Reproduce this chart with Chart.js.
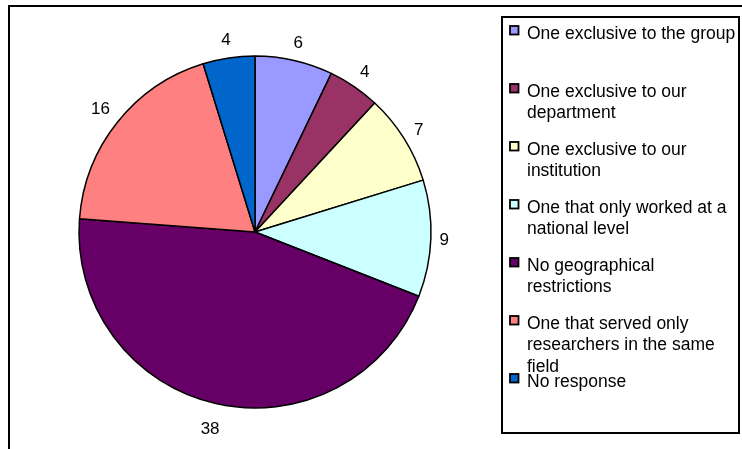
<!DOCTYPE html>
<html>
<head>
<meta charset="utf-8">
<script src="https://cdn.jsdelivr.net/npm/chart.js@4.4.0/dist/chart.umd.min.js"></script>
<style>
  html, body { margin: 0; padding: 0; background: #fff; }
  #wrap { width: 742px; height: 449px; }
</style>
</head>
<body>
<div id="wrap"><canvas id="pieChart" width="742" height="449"></canvas></div>
<script>
// ===== Data =====
const categories = [
    ['One exclusive to the group'],
    ['One exclusive to our', 'department'],
    ['One exclusive to our', 'institution'],
    ['One that only worked at a', 'national level'],
    ['No geographical', 'restrictions'],
    ['One that served only', 'researchers in the same', 'field'],
    ['No response']
];
const responses = [6, 4, 7, 9, 38, 16, 4];
const sliceColors = ['#9999FF', '#993366', '#FFFFCC', '#CCFFFF', '#660066', '#FF8080', '#0066CC'];

const FONT = "'Liberation Sans', Arial, sans-serif";

// ===== Frame + legend box =====
const framePlugin = {
    id: 'frame',
    beforeDraw(chart) {
        const ctx = chart.ctx;
        ctx.save();
        ctx.fillStyle = '#fff';
        ctx.fillRect(0, 0, chart.width, chart.height);
        ctx.strokeStyle = '#000';
        ctx.lineWidth = 2;
        ctx.strokeRect(9, 6, 800, 500);
        ctx.restore();
    },
    afterDraw(chart) {
        const ctx = chart.ctx;
        ctx.save();
        ctx.strokeStyle = '#000';
        ctx.lineWidth = 2;
        ctx.strokeRect(502, 17, 237, 416);

        ctx.font = '17.5px ' + FONT;
        ctx.textBaseline = 'alphabetic';
        ctx.textAlign = 'left';
        const step = 58;
        const lineH = 21.7;
        categories.forEach((lines, i) => {
            const base = 38.5 + i * step;
            // swatch
            ctx.fillStyle = sliceColors[i];
            ctx.fillRect(510, base - 12.5, 8.5, 8.5);
            ctx.lineWidth = 1.8;
            ctx.strokeStyle = '#000';
            ctx.strokeRect(510, base - 12.5, 8.5, 8.5);
            ctx.fillStyle = '#000';
            lines.forEach((txt, j) => ctx.fillText(txt, 527, base + j * lineH));
        });
        ctx.restore();
    }
};

// ===== Value labels outside the slices =====
const outsideLabels = {
    id: 'outsideLabels',
    afterDatasetsDraw(chart) {
        const ctx = chart.ctx;
        const meta = chart.getDatasetMeta(0);
        ctx.save();
        ctx.font = '17px ' + FONT;
        ctx.fillStyle = '#000';
        ctx.textAlign = 'center';
        ctx.textBaseline = 'middle';
        meta.data.forEach((arc, i) => {
            const p = arc.getProps(['x', 'y', 'startAngle', 'endAngle', 'outerRadius'], true);
            const mid = (p.startAngle + p.endAngle) / 2;
            const ux = Math.cos(mid);
            const uy = Math.sin(mid);
            const txt = String(chart.data.datasets[0].data[i]);
            const w = ctx.measureText(txt).width;
            // labels below the pie sit a little lower (text box includes descent)
            const h = uy > 0 ? 32 : 20;
            const d = p.outerRadius + 8 + Math.abs(ux) * w / 2 + Math.abs(uy) * h / 2;
            ctx.fillText(txt, p.x + ux * d, p.y + uy * d + 1);
        });
        ctx.restore();
    }
};

new Chart(document.getElementById('pieChart'), {
    type: 'pie',
    data: {
        labels: categories.map(l => l.join(' ')),
        datasets: [{
            data: responses,
            backgroundColor: sliceColors,
            borderColor: '#000',
            borderWidth: 1.5
        }]
    },
    options: {
        responsive: false,
        animation: false,
        radius: 176,
        layout: {
            padding: { left: 79, right: 311, top: 56, bottom: 41 }
        },
        plugins: {
            legend: { display: false },
            tooltip: { enabled: false }
        }
    },
    plugins: [framePlugin, outsideLabels]
});
</script>
</body>
</html>
